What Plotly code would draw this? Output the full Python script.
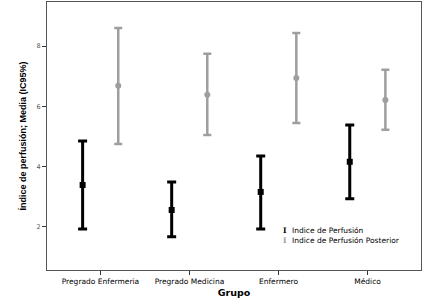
import plotly.graph_objects as go

categories = ["Pregrado Enfermeria", "Pregrado Medicina", "Enfermero", "Médico"]
ip_mean = [3.39, 2.56, 3.16, 4.16]
ip_upper = [4.85, 3.49, 4.35, 5.38]
ip_lower = [1.93, 1.67, 1.93, 2.93]
ipp_mean = [6.68, 6.38, 6.94, 6.21]
ipp_upper = [8.60, 7.74, 8.43, 7.21]
ipp_lower = [4.75, 5.05, 5.45, 5.22]
y_ticks = [2, 4, 6, 8]
legend_names = ["Indice de Perfusión", "Indice de Perfusión Posterior"]

pos = list(range(len(categories)))
off = 0.2
BLACK, GRAY = "black", "#9e9e9e"

fig = go.Figure()
fig.add_trace(go.Scatter(
    x=[p - off for p in pos], y=ip_mean, mode="markers",
    marker=dict(symbol="square", size=6, color=BLACK),
    error_y=dict(type="data", symmetric=False,
                 array=[u - m for u, m in zip(ip_upper, ip_mean)],
                 arrayminus=[m - l for m, l in zip(ip_mean, ip_lower)],
                 color=BLACK, thickness=3, width=4.5),
    name=legend_names[0], showlegend=False))
fig.add_trace(go.Scatter(
    x=[p + off for p in pos], y=ipp_mean, mode="markers",
    marker=dict(symbol="circle", size=6, color=GRAY),
    error_y=dict(type="data", symmetric=False,
                 array=[u - m for u, m in zip(ipp_upper, ipp_mean)],
                 arrayminus=[m - l for m, l in zip(ipp_mean, ipp_lower)],
                 color=GRAY, thickness=2.5, width=4),
    name=legend_names[1], showlegend=False))

L, R, T, B = 47, 421, 2, 270
def px(x): return (x - L) / (R - L)
def py(y): return (B - y) / (B - T)

fig.add_annotation(xref="paper", yref="paper", x=px(290), y=py(235),
                   xanchor="left", yanchor="middle", align="left",
                   text="<br>".join(legend_names),
                   showarrow=False, font=dict(family="DejaVu Sans, sans-serif", size=7.5, color="black"))
fig.add_annotation(xref="paper", yref="paper", x=px(285), y=py(235),
                   xanchor="center", yanchor="middle", align="center",
                   text=f"<b>I</b><br><b style='color:{GRAY}'>I</b>",
                   showarrow=False, font=dict(family="DejaVu Serif", size=7.5, color=BLACK))

fig.update_layout(
    width=435, height=301,
    margin=dict(l=L, r=435 - R, t=T, b=301 - B, autoexpand=False),
    plot_bgcolor="white", paper_bgcolor="white",
    font=dict(family="DejaVu Sans, sans-serif", size=8, color="black"),
    showlegend=False,
    xaxis=dict(range=[-0.6, 3.6], tickvals=pos, ticktext=categories, automargin=False,
               showgrid=False, zeroline=False, showline=True, linecolor="#555555",
               linewidth=1, mirror=True, ticks="outside", ticklen=4, tickcolor="#333333",
               tickfont=dict(size=7.5),
               title=dict(text="<b>Grupo</b>", font=dict(size=9.5), standoff=4)),
    yaxis=dict(range=[0.57, 9.46], tickvals=y_ticks, automargin=False,
               showgrid=False, zeroline=False, showline=True, linecolor="#555555",
               linewidth=1, mirror=True, ticks="outside", ticklen=4, tickcolor="#333333",
               tickfont=dict(size=6.5, color="#555555"),
               title=dict(text="<b>Índice de perfusión; Media (IC95%)</b>",
                          font=dict(family="Liberation Sans, Arial, sans-serif", size=9),
                          standoff=8)),
)

fig.write_html("out.html", config={"displayModeBar": False},
               post_script="document.body.style.margin='0';document.body.style.overflow='hidden';")
